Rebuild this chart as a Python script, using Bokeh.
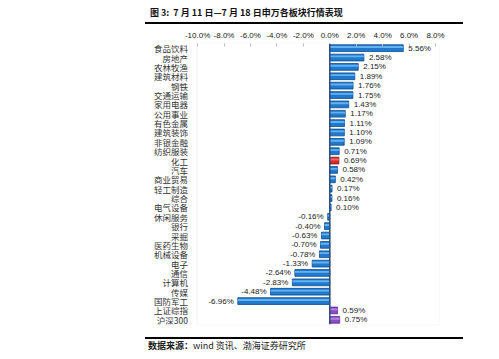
from bokeh.plotting import figure
from bokeh.models import FactorRange, ColumnDataSource, Span, FixedTicker, Div, BoxAnnotation
from bokeh.layouts import column
from bokeh.transform import dodge
from bokeh.core.properties import value
from bokeh.embed import file_html
from bokeh.resources import INLINE

categories = ["食品饮料", "房地产", "农林牧渔", "建筑材料", "钢铁", "交通运输", "家用电器",
              "公用事业", "有色金属", "建筑装饰", "非银金融", "纺织服装", "化工", "汽车",
              "商业贸易", "轻工制造", "综合", "电气设备", "休闲服务", "银行", "采掘",
              "医药生物", "机械设备", "电子", "通信", "计算机", "传媒", "国防军工",
              "上证综指", "沪深300"]
values = [5.56, 2.58, 2.15, 1.89, 1.76, 1.75, 1.43, 1.17, 1.11, 1.10, 1.09, 0.71,
          0.69, 0.58, 0.42, 0.17, 0.16, 0.10, -0.16, -0.40, -0.63, -0.70, -0.78,
          -1.33, -2.64, -2.83, -4.48, -6.96, 0.59, 0.75]
tick_values = [-10, -8, -6, -4, -2, 0, 2, 4, 6, 8]
tick_labels = ["-10.0%", "-8.0%", "-6.0%", "-4.0%", "-2.0%", "0.0%", "2.0%", "4.0%", "6.0%", "8.0%"]

axis_min, axis_max = -10.05, 8.3   # visible plotting box
view_min = -14.32                  # extra room on the left for category names

def bar_color(c):
    if c == "化工":
        return "#d42a2a"
    if c in ("上证综指", "沪深300"):
        return "#8a4cc4"
    return "#2079cc"

def hi_color(c):
    if c == "化工":
        return "#f07070"
    if c in ("上证综指", "沪深300"):
        return "#b88ae6"
    return "#6ab8f4"

def edge_color(c):
    if c == "化工":
        return "#8a1010"
    if c in ("上证综指", "沪深300"):
        return "#5a2a8a"
    return "#0d4a8a"

src = ColumnDataSource(dict(
    cat=categories,
    val=values,
    anchor=[axis_min] * len(categories),
    color=[bar_color(c) for c in categories],
    hi=[hi_color(c) for c in categories],
    edge=[edge_color(c) for c in categories],
    label=["{:.2f}%".format(v) for v in values],
    align=["left" if v >= 0 else "right" for v in values],
    xoff=[5 if v >= 0 else -4 for v in values],
))

p = figure(width=499, height=313, y_range=FactorRange(factors=list(reversed(categories))),
           x_range=(view_min, axis_max), x_axis_location="above",
           output_backend="svg", toolbar_location=None,
           min_border_left=140, min_border_right=60, min_border_top=19, min_border_bottom=13)

p.add_layout(BoxAnnotation(left=axis_min, right=axis_max, fill_alpha=0,
                           line_color="#d4d4d4", line_width=1, level="underlay"))

p.hbar(y="cat", left=0, right="val", height=0.72, source=src,
       fill_color="color", line_color="edge", line_width=0.8)
p.hbar(y=dodge("cat", 0.12, range=p.y_range), left=0, right="val", height=0.2, source=src,
       fill_color="hi", line_color=None, fill_alpha=0.9)

p.text(x="val", y="cat", text="label", source=src, text_align="align", x_offset="xoff",
       text_baseline="middle", text_font=value("Liberation Sans"), text_font_size="8px",
       text_color="#222222")

p.text(x="anchor", y="cat", text="cat", source=src, text_align="right", x_offset=-9,
       text_baseline="middle", text_font=value("Noto Sans CJK SC"), text_font_size="8.5px",
       text_color="#333333")

p.add_layout(Span(location=0, dimension="height", line_color="#2f4f7a", line_width=1.5))

p.xgrid.visible = False
p.ygrid.visible = False
p.yaxis.visible = False
p.outline_line_color = None
p.background_fill_color = "white"

xa = p.xaxis[0]
xa.ticker = FixedTicker(ticks=tick_values)
xa.major_label_overrides = {t: l for t, l in zip(tick_values, tick_labels)}
xa.axis_line_color = None
xa.major_tick_in = 3
xa.major_tick_out = 0
xa.major_tick_line_color = "#bbbbbb"
xa.minor_tick_line_color = None
xa.major_label_standoff = 4
xa.major_label_text_font = "Liberation Sans"
xa.major_label_text_font_size = "8px"
xa.major_label_text_color = "#222222"

title = Div(text=('<div style="margin-left:145px;width:318px;height:24px;box-sizing:border-box;'
                  'border-bottom:2px solid #000;padding-left:5px;padding-top:7px;line-height:12px;'
                  'font-family:\'Noto Sans CJK SC\';font-weight:bold;font-size:9px;color:#111;white-space:nowrap">'
                  '图 3:&nbsp; 7 月 11 日—7 月 18 日申万各板块行情表现</div>'),
            width=499, height=24, margin=(0, 0, 0, 0))
footer = Div(text=('<div style="margin-left:145px;width:318px;height:18px;box-sizing:border-box;'
                   'border-top:2px solid #000;padding-left:3px;line-height:14px;'
                   'font-family:\'Noto Sans CJK SC\';font-size:9px;color:#222;white-space:nowrap">'
                   '<b>数据来源：</b>wind 资讯、渤海证券研究所</div>'),
             width=499, height=18, margin=(0, 0, 0, 0))

layout = column(title, p, footer, spacing=0)
open("out.html", "w").write(file_html(layout, INLINE))
